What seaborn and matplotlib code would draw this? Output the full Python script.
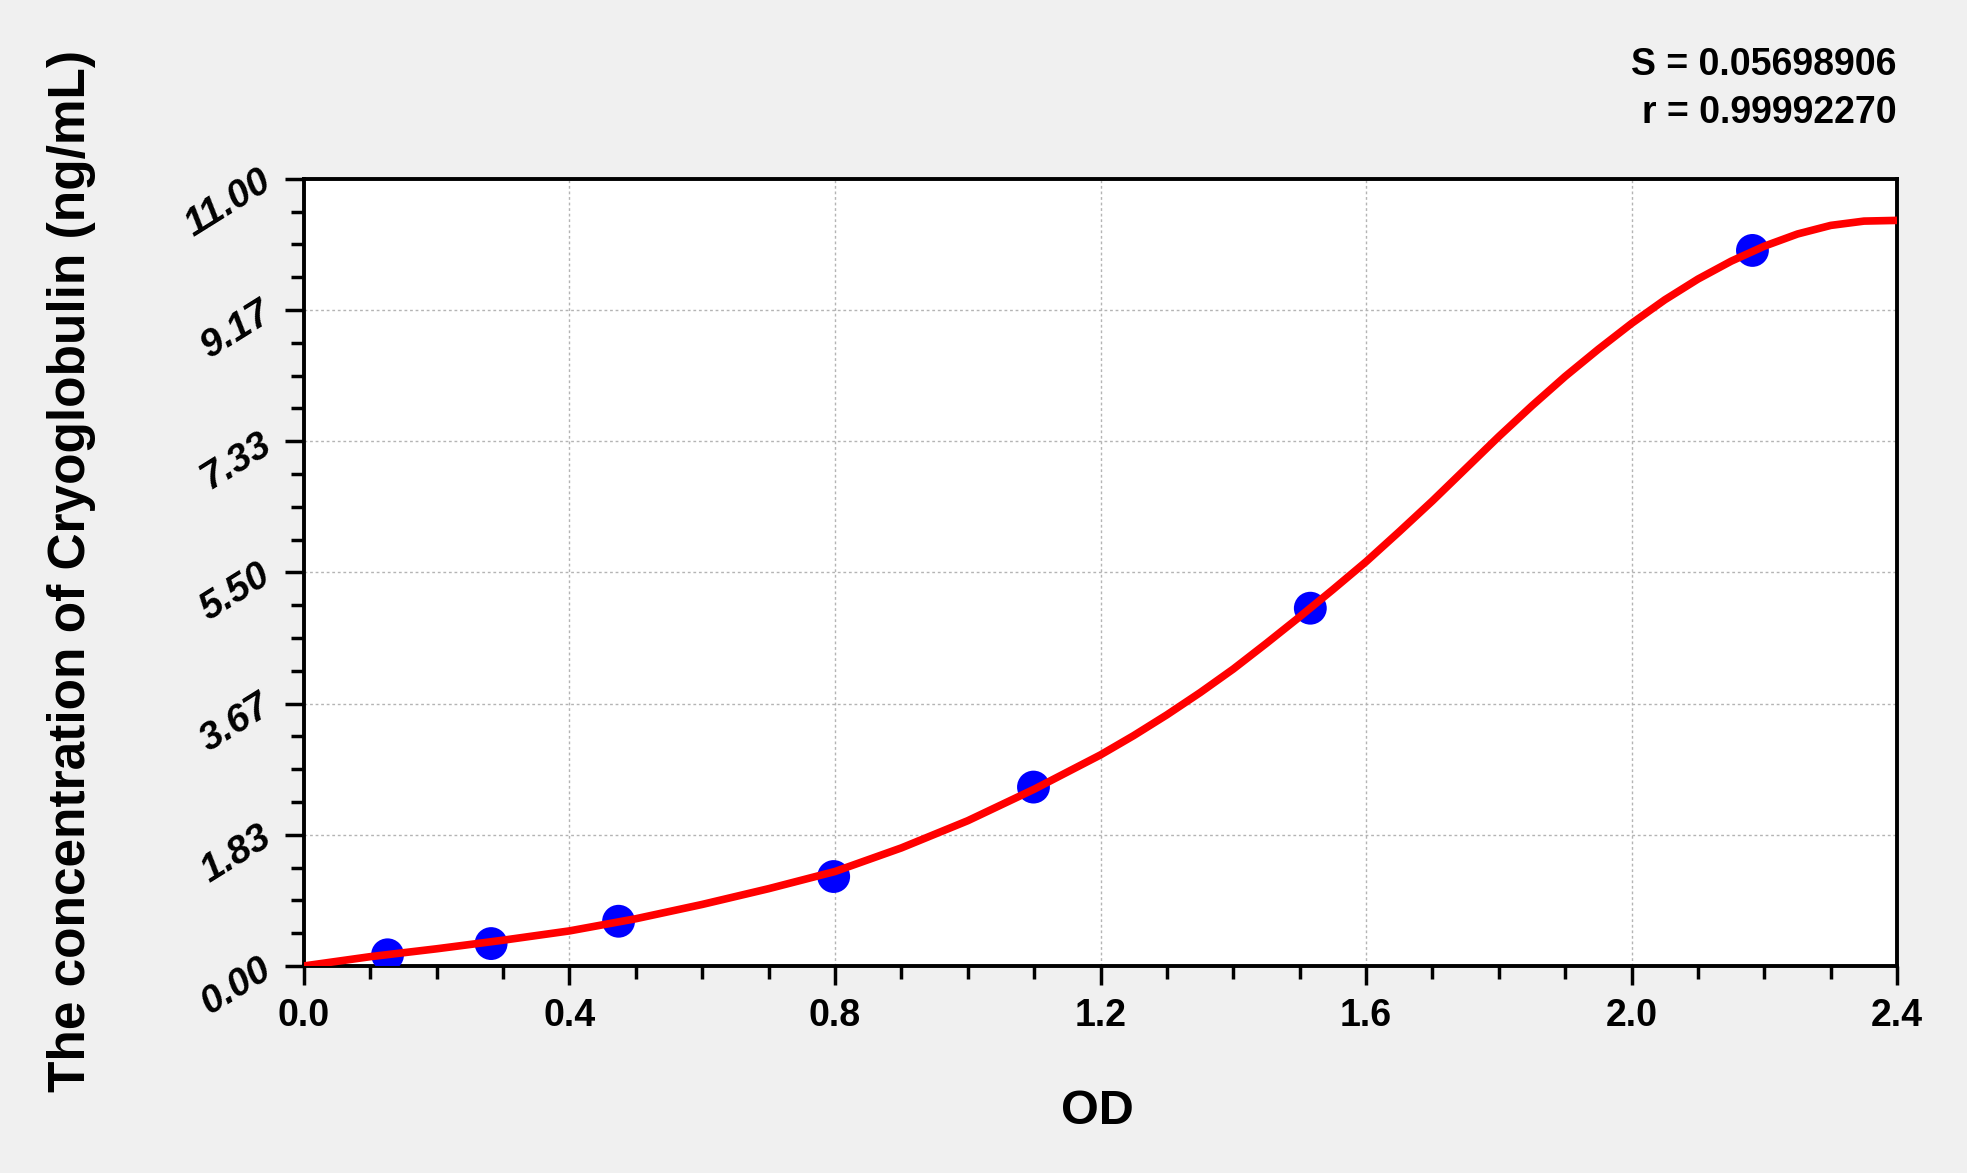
import numpy as np
import pandas as pd
import matplotlib
matplotlib.use("Agg")
import matplotlib.pyplot as plt
import seaborn as sns

# standard points
od_std = [0.126, 0.282, 0.474, 0.798, 1.099, 1.516, 2.182]
conc_std = [0.156, 0.313, 0.625, 1.25, 2.5, 5.0, 10.0]

# fitted curve
od_fit = [0.0, 0.1, 0.2, 0.3, 0.4, 0.5, 0.6, 0.7, 0.8, 0.9, 1.0, 1.1, 1.2, 1.25,
          1.3, 1.35, 1.4, 1.45, 1.5, 1.55, 1.6, 1.65, 1.7, 1.75, 1.8, 1.85, 1.9,
          1.95, 2.0, 2.05, 2.1, 2.15, 2.2, 2.25, 2.3, 2.35, 2.4]
conc_fit = [0.0, 0.13, 0.24, 0.36, 0.49, 0.66, 0.86, 1.08, 1.32, 1.65, 2.03, 2.47, 2.95, 3.22,
            3.51, 3.82, 4.15, 4.51, 4.88, 5.26, 5.65, 6.07, 6.50, 6.95, 7.40, 7.83, 8.24,
            8.62, 8.98, 9.31, 9.60, 9.85, 10.06, 10.23, 10.35, 10.41, 10.42]

x_ticks = [0.0, 0.4, 0.8, 1.2, 1.6, 2.0, 2.4]
x_ticklabels = ["0.0", "0.4", "0.8", "1.2", "1.6", "2.0", "2.4"]
y_ticks = [0.0, 11 / 6, 22 / 6, 5.5, 44 / 6, 55 / 6, 11.0]
y_ticklabels = ["0.00", "1.83", "3.67", "5.50", "7.33", "9.17", "11.00"]

stats = ["S = 0.05698906", "r = 0.99992270"]

sns.set_style("white")
plt.rcParams['font.family'] = ['Liberation Sans', 'DejaVu Sans']
plt.rcParams['font.weight'] = 'bold'
plt.rcParams['text.color'] = 'black'
plt.rcParams['axes.labelcolor'] = 'black'
plt.rcParams['xtick.color'] = 'black'
plt.rcParams['ytick.color'] = 'black'

pts = pd.DataFrame({"od": od_std, "conc": conc_std})
fit = pd.DataFrame({"od": od_fit, "conc": conc_fit})

fig = plt.figure(figsize=(19.67, 11.73), dpi=100, facecolor="#f0f0f0")
ax = fig.add_axes([0.1545, 0.1765, 0.81, 0.671])
ax.set_facecolor("white")

sns.scatterplot(data=pts, x="od", y="conc", ax=ax, s=560, color="#0000ff",
                edgecolor="none", zorder=3)
sns.lineplot(data=fit, x="od", y="conc", ax=ax, color="#ff0000", linewidth=5.5,
             zorder=4, solid_capstyle="round", solid_joinstyle="round")

ax.set_xlim(0, 2.4)
ax.set_ylim(0, 11)
ax.set_xticks(x_ticks)
ax.set_xticklabels(x_ticklabels, fontsize=27, fontweight="bold", color="black")
ax.set_yticks(y_ticks)
ax.set_yticklabels(y_ticklabels, fontsize=28, fontweight="bold", fontstyle="italic",
                   color="black", rotation=32, ha="right", va="center",
                   rotation_mode="anchor")
ax.set_xticks(np.arange(0, 2.41, 0.1), minor=True)
ax.set_yticks(np.arange(0, 11.01, 11 / 24), minor=True)

ax.tick_params(axis="both", which="both", bottom=True, left=True, top=False, right=False)
ax.tick_params(axis="both", which="major", direction="out", length=14, width=2.5,
               color="black")
ax.tick_params(axis="both", which="minor", direction="out", length=9.5, width=2.5,
               color="black")
ax.tick_params(axis="x", which="major", pad=9)
ax.tick_params(axis="y", which="major", pad=12)

for sp in ax.spines.values():
    sp.set_visible(True)
    sp.set_color("black")
    sp.set_linewidth(2.8)

ax.grid(True, which="major", color="#b4b4b4", linestyle=(0, (2, 2)), linewidth=1)

ax.set_xlabel("OD", fontsize=35, fontweight="bold", va="center", color="black")
ax.xaxis.set_label_coords(0.498, -0.1854)
ax.set_ylabel("The concentration of Cryoglobulin (ng/mL)", fontsize=37,
              fontweight="bold", va="center", color="black")
ax.yaxis.set_label_coords(-0.1456, 0.5017)

fig.text(0.964, 0.9446, stats[0], ha="right", va="center", fontsize=27, fontweight="bold")
fig.text(0.964, 0.9037, stats[1], ha="right", va="center", fontsize=27, fontweight="bold")

fig.savefig("out.png", dpi=100, facecolor=fig.get_facecolor())
